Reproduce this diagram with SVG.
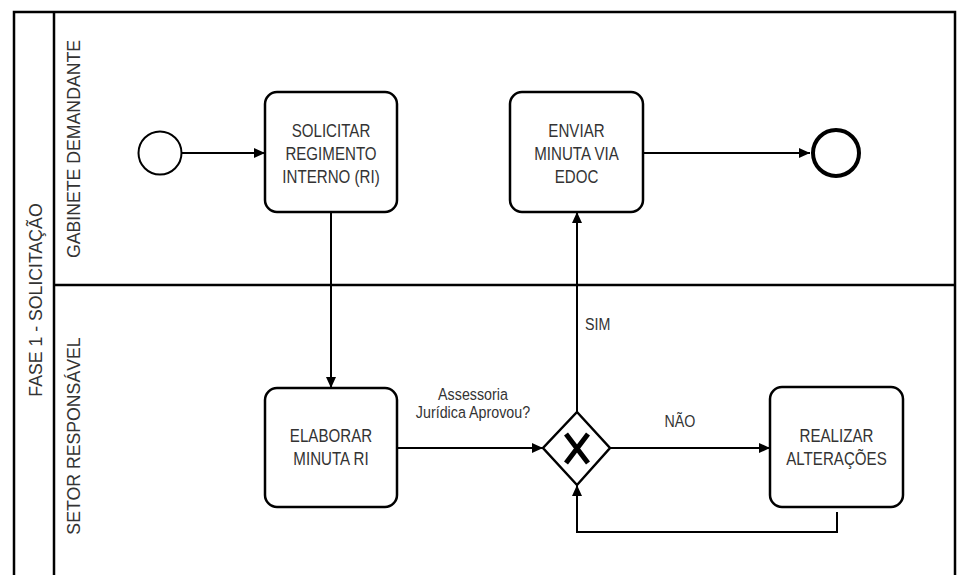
<svg xmlns="http://www.w3.org/2000/svg" width="960" height="575" viewBox="0 0 960 575">
<defs>
<style>
.ln{fill:none;stroke:#000;stroke-width:2.5}
.box{fill:#fff;stroke:#000;stroke-width:2.5}
.c{fill:none;stroke:#000;stroke-width:2}
.t{font-family:"Liberation Sans",Arial,sans-serif;font-size:18px;fill:#333;text-anchor:middle}
.lb{font-family:"Liberation Sans",Arial,sans-serif;font-size:17px;fill:#333}
.rl{font-family:"Liberation Sans",Arial,sans-serif;font-size:17.7px;fill:#333;text-anchor:middle}
</style>
<marker id="arr" markerUnits="userSpaceOnUse" markerWidth="12" markerHeight="12" refX="11" refY="6" orient="auto">
<path d="M0,1 L11,6 L0,11 z" fill="#000"/>
</marker>
</defs>
<rect width="960" height="575" fill="#fff"/>
<g id="pool">
<rect class="ln" x="14" y="12" width="941" height="575"/>
<line class="ln" x1="54" y1="12" x2="54" y2="587"/>
<line class="ln" x1="54" y1="285" x2="955" y2="285"/>
<text class="rl" transform="translate(42,300) rotate(-90)">FASE 1 - SOLICITAÇÃO</text>
<text class="rl" transform="translate(80,149) rotate(-90)">GABINETE DEMANDANTE</text>
<text class="rl" transform="translate(80,436) rotate(-90)">SETOR RESPONSÁVEL</text>
</g>
<g id="connectors">
<path class="c" d="M182,153 H265" marker-end="url(#arr)"/>
<path class="c" d="M331,212 V388" marker-end="url(#arr)"/>
<path class="c" d="M397,448 H543" marker-end="url(#arr)"/>
<path class="c" d="M577,412 V212" marker-end="url(#arr)"/>
<path class="c" d="M643,153 H810" marker-end="url(#arr)"/>
<path class="c" d="M610,448 H770" marker-end="url(#arr)"/>
<path class="c" d="M837,512 V532 H577 V485" marker-end="url(#arr)"/>
<g class="lb">
<text text-anchor="middle" transform="matrix(0.84,0,0,1,75.68,0)" x="473" y="400">Assessoria</text>
<text text-anchor="middle" transform="matrix(0.84,0,0,1,75.68,0)" x="473" y="418.5">Jurídica Aprovou?</text>
<text transform="matrix(0.84,0,0,1,93.6,0)" x="585" y="330">SIM</text>
<text text-anchor="middle" transform="matrix(0.84,0,0,1,108.8,0)" x="680" y="427">NÃO</text>
</g>
</g>
<g id="start">
<circle cx="160" cy="153" r="21.5" fill="#fff" stroke="#000" stroke-width="2"/>
</g>
<g id="solicitar">
<rect class="box" x="265" y="92" width="132" height="120" rx="12"/>
<g class="t" transform="matrix(0.84,0,0,1,52.96,0)">
<text x="331" y="137">SOLICITAR</text>
<text x="331" y="160">REGIMENTO</text>
<text x="331" y="183">INTERNO (RI)</text>
</g>
</g>
<g id="enviar">
<rect class="box" x="510" y="92" width="133" height="120" rx="12"/>
<g class="t" transform="matrix(0.84,0,0,1,92.24,0)">
<text x="576.5" y="137">ENVIAR</text>
<text x="576.5" y="160">MINUTA VIA</text>
<text x="576.5" y="183">EDOC</text>
</g>
</g>
<g id="end">
<circle cx="836" cy="153" r="23" fill="#fff" stroke="#000" stroke-width="4"/>
</g>
<g id="elaborar">
<rect class="box" x="265" y="388" width="132" height="119" rx="12"/>
<g class="t" transform="matrix(0.84,0,0,1,52.96,0)">
<text x="331" y="442.5">ELABORAR</text>
<text x="331" y="465">MINUTA RI</text>
</g>
</g>
<g id="gateway">
<polygon points="577,412 610,448 577,485 543,448" fill="#fff" stroke="#000" stroke-width="2.5"/>
<path d="M566,434 L588,463 M588,434 L566,463" stroke="#000" stroke-width="5" fill="none"/>
</g>
<g id="realizar">
<rect class="box" x="770" y="387" width="133" height="120" rx="12"/>
<g class="t" transform="matrix(0.84,0,0,1,133.84,0)">
<text x="836.5" y="442.5">REALIZAR</text>
<text x="836.5" y="465">ALTERAÇÕES</text>
</g>
</g>
</svg>
